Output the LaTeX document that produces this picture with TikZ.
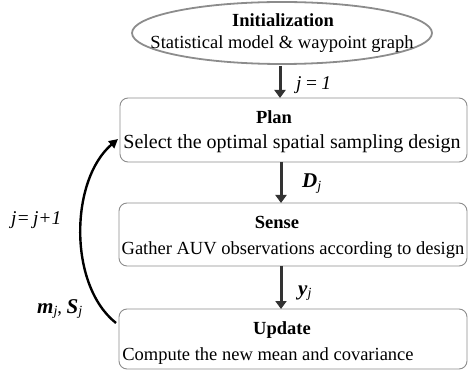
\documentclass[tikz,border=0pt]{standalone}
\usepackage{fontspec}
\setmainfont{Liberation Serif}
\usetikzlibrary{arrows.meta,shapes.geometric}
\newcommand{\bsym}[1]{{\fontsize{21}{22}\selectfont\textbf{\textit{#1}}}}
\newcommand{\subj}{\raisebox{-0.3ex}{\fontsize{14}{15}\selectfont\textit{j}}}
\begin{document}
\begin{tikzpicture}[x=1pt,y=-1pt,
  every node/.style={font=\fontsize{18.5}{22}\selectfont, inner sep=0pt, anchor=base},
  stagebox/.style={draw=black!45, line width=0.9pt, rounded corners=8pt},
  flow/.style={draw=black!80, line width=3pt, -{Triangle[length=8pt,width=11pt]}},
  loop/.style={draw=black, line width=2.4pt, -{Triangle[length=9pt,width=9pt]}},
  lbl/.style={font=\fontsize{19.5}{22}\selectfont\itshape, anchor=base west}]
\useasboundingbox (0,0) rectangle (471,371);
% ellipse
\node[draw=black!45, line width=1.8pt, ellipse, minimum width=300pt, minimum height=62pt, anchor=center] (init) at (282,33) {};
\node (initT) at (283,27) {\bfseries Initialization};
\node (initB) at (282,49) {Statistical model \& waypoint graph};
% boxes
\draw[stagebox] (120,98) rectangle (467,162);
\coordinate (planL) at (118,139);
\coordinate (planTop) at (280,98);
\coordinate (planBot) at (281,162);
\node (planT) at (274,124) {\bfseries Plan};
\node[font=\fontsize{20}{22}\selectfont] (planB) at (292,149) {Select the optimal spatial sampling design};
\draw[stagebox] (119,203) rectangle (467,266);
\coordinate (senseTop) at (281,203);
\coordinate (senseBot) at (281,266);
\node (senseT) at (277,229) {\bfseries Sense};
\node (senseB) at (293,255) {Gather AUV observations according to design};
\draw[stagebox] (119,309) rectangle (467,369);
\coordinate (updTop) at (281,309);
\coordinate (updL) at (116,323);
\node (updT) at (282,334) {\bfseries Update};
\node (updB) at (268,360) {Compute the new mean and covariance};
% arrows
\coordinate (initBot) at (280,66);
\draw[flow] (initBot) -- (planTop);
\draw[flow] (planBot) -- (senseTop);
\draw[flow] (senseBot) -- (updTop);
\draw[loop] (updL) .. controls (68,285) and (70,180) .. (planL);
% labels
\node[lbl] (l1) at (296,90) {j\,=\,1};
\node[anchor=base west] (l2) at (302,188) {\bsym{D}\subj};
\node[anchor=base west] (l3) at (298,295) {\bsym{y}\subj};
\node[lbl] (l4) at (11,225) {j=\,j+1};
\node[anchor=base west] (l5) at (37,313) {\bsym{m}\subj, \bsym{S}\subj};
\end{tikzpicture}
\end{document}
